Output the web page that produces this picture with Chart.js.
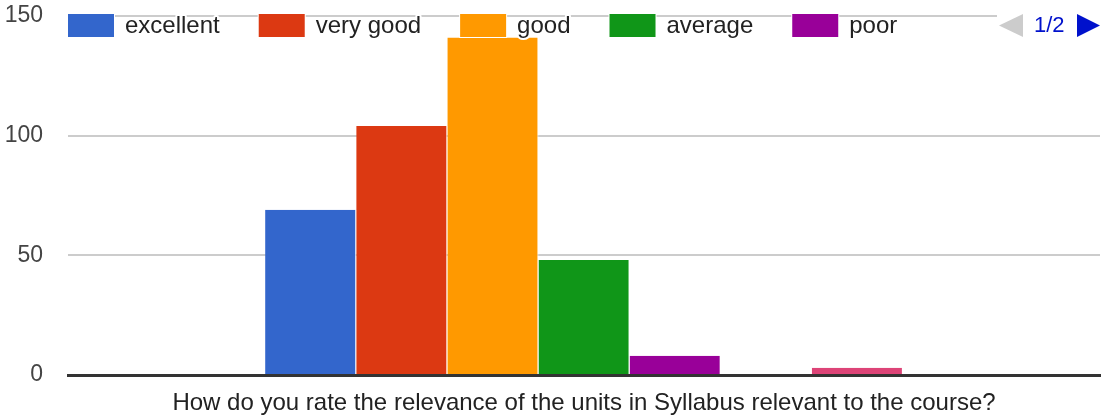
<!DOCTYPE html>
<html>
<head>
<meta charset="utf-8">
<script src="https://cdn.jsdelivr.net/npm/chart.js@4.4.1/dist/chart.umd.min.js"></script>
<style>
  body { margin: 0; background: #fff; }
  #wrap { width: 1101px; height: 417px; }
</style>
</head>
<body>
<div id="wrap"><canvas id="grafico"></canvas></div>
<script>
// datos
const categorias = ["How do you rate the relevance of the units in Syllabus relevant to the course?"];
const series = ["excellent", "very good", "good", "average", "poor", "very poor", "other"];
const valores = [69, 104, 141, 48, 8, 0, 3];
const colores = ["#3366cc", "#dc3912", "#ff9900", "#109618", "#990099", "#0099c6", "#dd4477"];
const ticksY = [0, 50, 100, 150];

const FUENTE = "'Liberation Sans', Arial, sans-serif";

// leyenda estilo google (primera pagina) + paginador
const leyendaPlugin = {
  id: "leyendaGoogle",
  afterDraw(chart) {
    const ctx = chart.ctx;
    ctx.save();
    ctx.font = "24px " + FUENTE;
    ctx.textBaseline = "middle";
    ctx.lineJoin = "round";
    let x = 68;
    const y = 14, h = 23, w = 46;
    chart.data.datasets.slice(0, 5).forEach(ds => {
      const tw = ctx.measureText(ds.label).width;
      // halo blanco
      ctx.fillStyle = "#fff";
      ctx.fillRect(x - 1, y - 1, w + 2, h + 2);
      ctx.fillStyle = ds.backgroundColor;
      ctx.fillRect(x, y, w, h);
      ctx.strokeStyle = "#fff";
      ctx.lineWidth = 4;
      ctx.strokeText(ds.label, x + 57, y + h / 2 + 1);
      ctx.fillStyle = "#222";
      ctx.fillText(ds.label, x + 57, y + h / 2 + 1);
      x += 57 + tw + 39;
    });
    // paginador
    ctx.fillStyle = "#fff";
    ctx.fillRect(997, 12, 104, 27);
    ctx.fillStyle = "#ccc";
    ctx.beginPath();
    ctx.moveTo(999, 25.5); ctx.lineTo(1023, 14); ctx.lineTo(1023, 37); ctx.closePath();
    ctx.fill();
    ctx.fillStyle = "#0011cc";
    ctx.font = "22px " + FUENTE;
    ctx.fillText("1/2", 1034, 26);
    ctx.beginPath();
    ctx.moveTo(1077, 14); ctx.lineTo(1100, 25.5); ctx.lineTo(1077, 37); ctx.closePath();
    ctx.fill();
    ctx.restore();
  }
};

const datasets = series.map((s, i) => ({
  label: s,
  data: [valores[i]],
  backgroundColor: colores[i],
  borderColor: "#fff",
  borderWidth: { left: 0, right: 1, top: 0, bottom: 0 },
  borderSkipped: false
}));

new Chart(document.getElementById("grafico"), {
  type: "bar",
  data: { labels: categorias, datasets: datasets },
  options: {
    responsive: true,
    maintainAspectRatio: false,
    animation: false,
    categoryPercentage: 0.618,
    barPercentage: 1,
    layout: { padding: { top: 16, right: 1, bottom: 0, left: 0 } },
    plugins: { legend: { display: false }, tooltip: { enabled: false } },
    scales: {
      x: {
        afterFit: axis => { axis.height = 42; axis.paddingTop = 0; axis.paddingBottom = 0; },
        grid: { display: false, drawTicks: false },
        border: { color: "#333", width: 3 },
        ticks: { color: "#222", font: { family: FUENTE, size: 24 }, padding: 14, maxRotation: 0, minRotation: 0, autoSkip: false }
      },
      y: {
        min: 0,
        max: 150,
        afterBuildTicks: axis => { axis.ticks = ticksY.map(v => ({ value: v })); },
        afterFit: axis => { axis.width = 68; axis.paddingTop = 0; axis.paddingBottom = 0; },
        grid: { color: "#ccc", lineWidth: 2, drawTicks: false },
        border: { display: false },
        ticks: { color: "#444", font: { family: FUENTE, size: 23 }, padding: 25 }
      }
    }
  },
  plugins: [leyendaPlugin]
});
</script>
</body>
</html>
